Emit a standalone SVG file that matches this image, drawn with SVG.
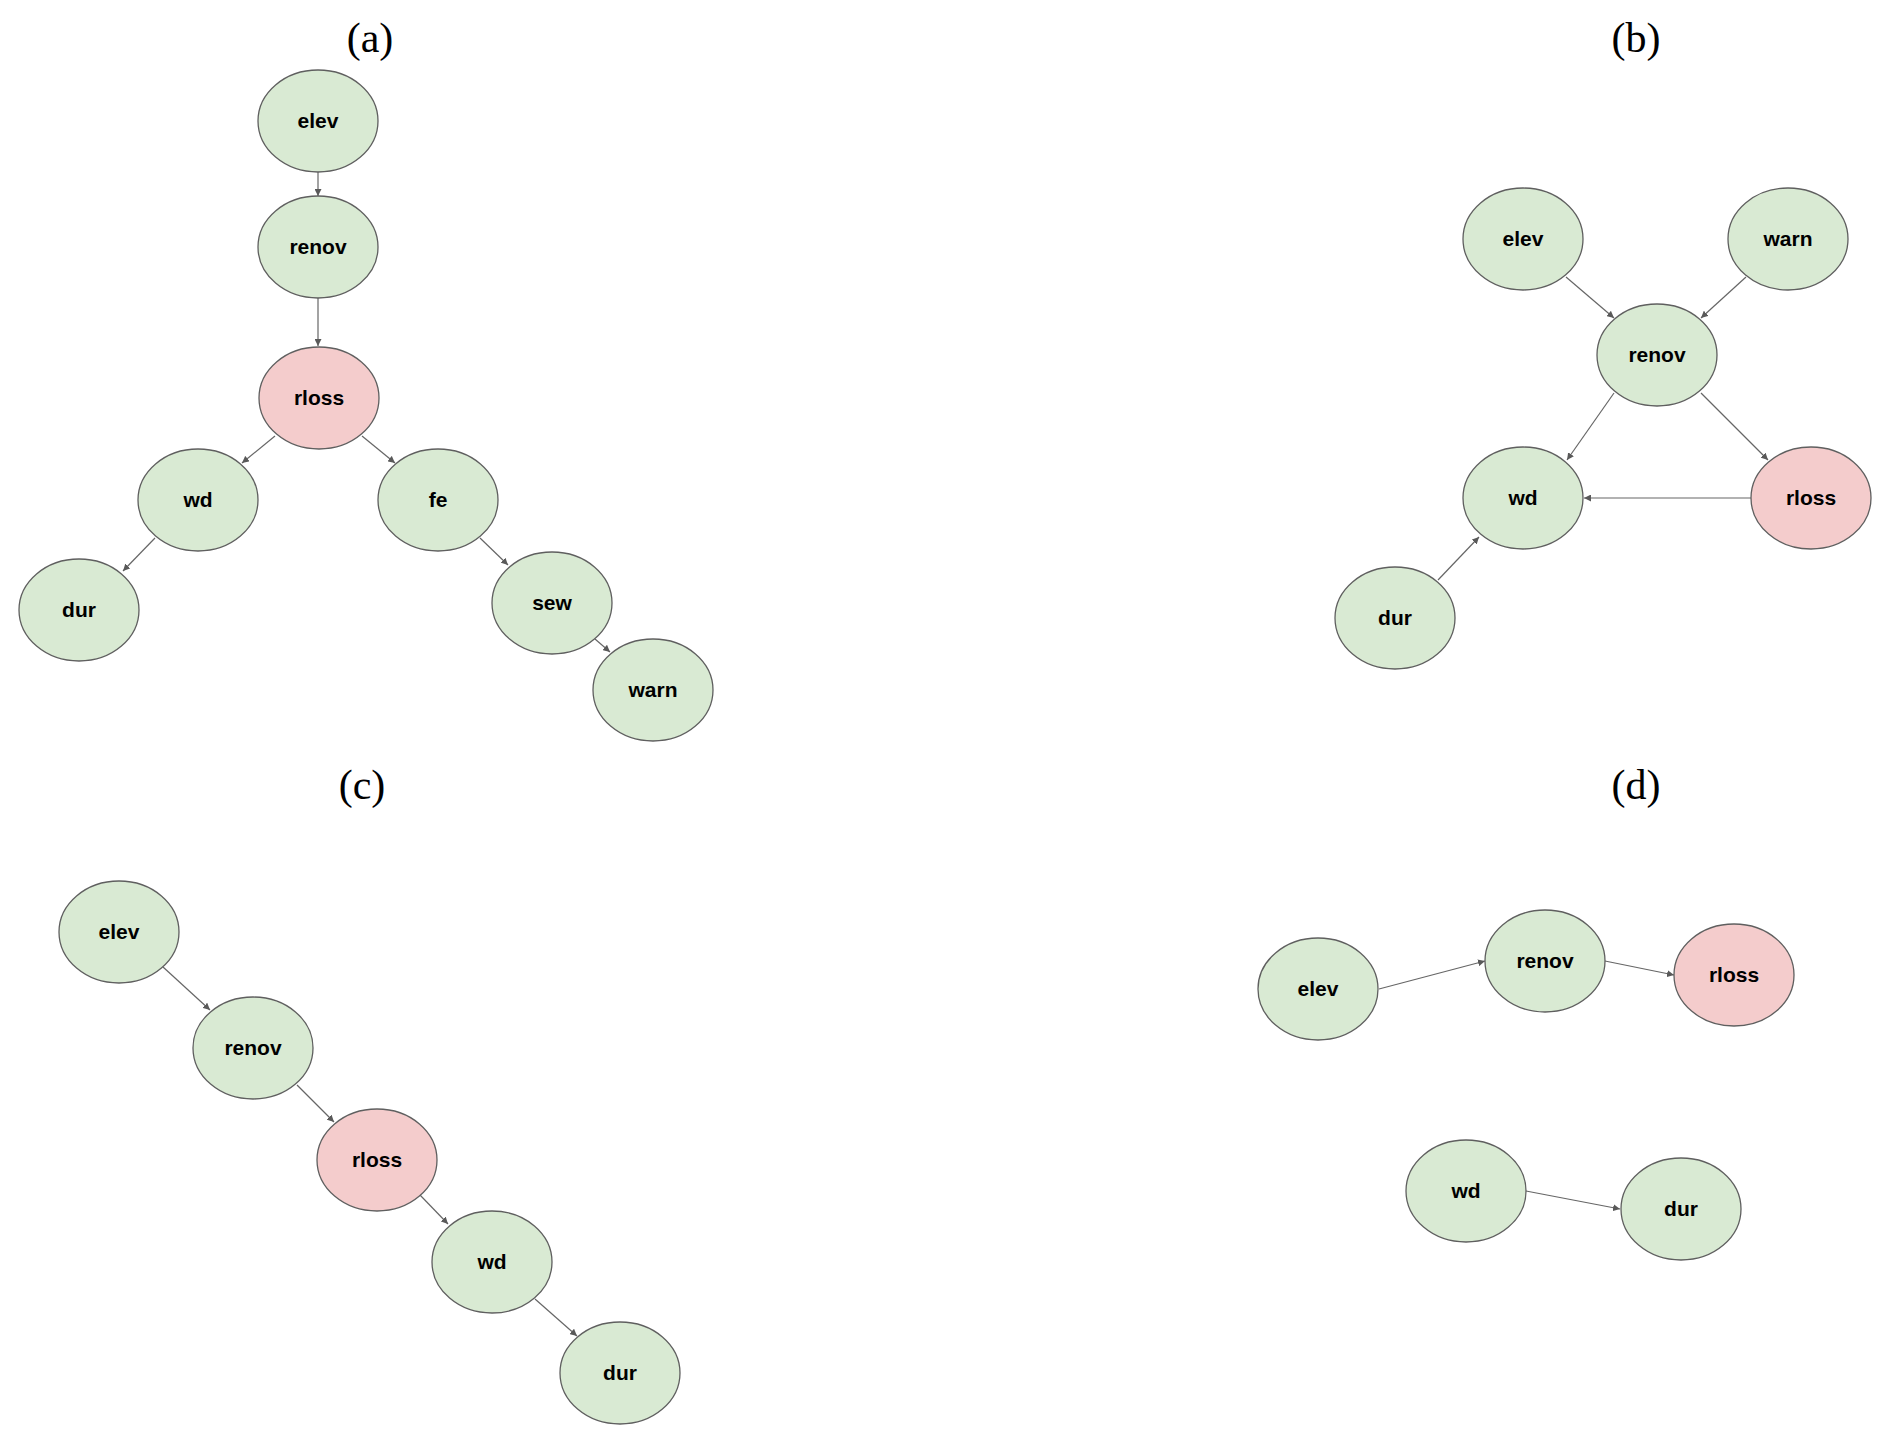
<svg xmlns="http://www.w3.org/2000/svg" width="1892" height="1445" viewBox="0 0 1892 1445">
<style>
.g ellipse{fill:#d9ead3;stroke:#5f5f5f;stroke-width:1.3}
.r ellipse{fill:#f4cccc;stroke:#5f5f5f;stroke-width:1.3}
.n text{font-family:"Liberation Sans",Arial,sans-serif;font-weight:bold;font-size:21px;fill:#000;text-anchor:middle}
.t{font-family:"Liberation Serif","Times New Roman",serif;font-size:42px;fill:#000;text-anchor:middle}
.e line{stroke:#666666;stroke-width:1.2;marker-end:url(#ah)}
</style>
<defs>
<marker id="ah" viewBox="0 0 10 10" refX="10" refY="5" markerWidth="7" markerHeight="7" markerUnits="userSpaceOnUse" orient="auto">
<path d="M0,0 L10,5 L0,10 z" fill="#595959"/>
</marker>
</defs>
<rect width="1892" height="1445" fill="#ffffff"/>
<text class="t" x="370" y="52">(a)</text>
<text class="t" x="1636" y="52">(b)</text>
<text class="t" x="362" y="799">(c)</text>
<text class="t" x="1636" y="799">(d)</text>
<g id="edges" class="e">
<line x1="318" y1="172" x2="318" y2="196"/>
<line x1="318" y1="298" x2="318" y2="346"/>
<line x1="275" y1="436" x2="242" y2="463"/>
<line x1="362" y1="436" x2="395" y2="463"/>
<line x1="155" y1="538" x2="123" y2="571"/>
<line x1="480" y1="538" x2="508" y2="565"/>
<line x1="595" y1="639" x2="610" y2="652"/>
<line x1="1566" y1="277" x2="1614" y2="318"/>
<line x1="1746" y1="277" x2="1701" y2="318"/>
<line x1="1614" y1="393" x2="1567" y2="460"/>
<line x1="1701" y1="393" x2="1768" y2="460"/>
<line x1="1751" y1="498" x2="1584" y2="498"/>
<line x1="1438" y1="580" x2="1479" y2="537"/>
<line x1="163" y1="967" x2="210" y2="1010"/>
<line x1="297" y1="1085" x2="334" y2="1122"/>
<line x1="420" y1="1195" x2="448" y2="1224"/>
<line x1="535" y1="1299" x2="577" y2="1336"/>
<line x1="1379" y1="989" x2="1485" y2="961"/>
<line x1="1605" y1="961" x2="1674" y2="975"/>
<line x1="1526" y1="1191" x2="1620" y2="1209"/>
</g>
<g id="a-elev" class="n g"><ellipse cx="318" cy="121" rx="60" ry="51"/><text x="318" y="128">elev</text></g>
<g id="a-renov" class="n g"><ellipse cx="318" cy="247" rx="60" ry="51"/><text x="318" y="254">renov</text></g>
<g id="a-rloss" class="n r"><ellipse cx="319" cy="398" rx="60" ry="51"/><text x="319" y="405">rloss</text></g>
<g id="a-wd" class="n g"><ellipse cx="198" cy="500" rx="60" ry="51"/><text x="198" y="507">wd</text></g>
<g id="a-fe" class="n g"><ellipse cx="438" cy="500" rx="60" ry="51"/><text x="438" y="507">fe</text></g>
<g id="a-dur" class="n g"><ellipse cx="79" cy="610" rx="60" ry="51"/><text x="79" y="617">dur</text></g>
<g id="a-sew" class="n g"><ellipse cx="552" cy="603" rx="60" ry="51"/><text x="552" y="610">sew</text></g>
<g id="a-warn" class="n g"><ellipse cx="653" cy="690" rx="60" ry="51"/><text x="653" y="697">warn</text></g>
<g id="b-elev" class="n g"><ellipse cx="1523" cy="239" rx="60" ry="51"/><text x="1523" y="246">elev</text></g>
<g id="b-warn" class="n g"><ellipse cx="1788" cy="239" rx="60" ry="51"/><text x="1788" y="246">warn</text></g>
<g id="b-renov" class="n g"><ellipse cx="1657" cy="355" rx="60" ry="51"/><text x="1657" y="362">renov</text></g>
<g id="b-wd" class="n g"><ellipse cx="1523" cy="498" rx="60" ry="51"/><text x="1523" y="505">wd</text></g>
<g id="b-rloss" class="n r"><ellipse cx="1811" cy="498" rx="60" ry="51"/><text x="1811" y="505">rloss</text></g>
<g id="b-dur" class="n g"><ellipse cx="1395" cy="618" rx="60" ry="51"/><text x="1395" y="625">dur</text></g>
<g id="c-elev" class="n g"><ellipse cx="119" cy="932" rx="60" ry="51"/><text x="119" y="939">elev</text></g>
<g id="c-renov" class="n g"><ellipse cx="253" cy="1048" rx="60" ry="51"/><text x="253" y="1055">renov</text></g>
<g id="c-rloss" class="n r"><ellipse cx="377" cy="1160" rx="60" ry="51"/><text x="377" y="1167">rloss</text></g>
<g id="c-wd" class="n g"><ellipse cx="492" cy="1262" rx="60" ry="51"/><text x="492" y="1269">wd</text></g>
<g id="c-dur" class="n g"><ellipse cx="620" cy="1373" rx="60" ry="51"/><text x="620" y="1380">dur</text></g>
<g id="d-elev" class="n g"><ellipse cx="1318" cy="989" rx="60" ry="51"/><text x="1318" y="996">elev</text></g>
<g id="d-renov" class="n g"><ellipse cx="1545" cy="961" rx="60" ry="51"/><text x="1545" y="968">renov</text></g>
<g id="d-rloss" class="n r"><ellipse cx="1734" cy="975" rx="60" ry="51"/><text x="1734" y="982">rloss</text></g>
<g id="d-wd" class="n g"><ellipse cx="1466" cy="1191" rx="60" ry="51"/><text x="1466" y="1198">wd</text></g>
<g id="d-dur" class="n g"><ellipse cx="1681" cy="1209" rx="60" ry="51"/><text x="1681" y="1216">dur</text></g>
</svg>
